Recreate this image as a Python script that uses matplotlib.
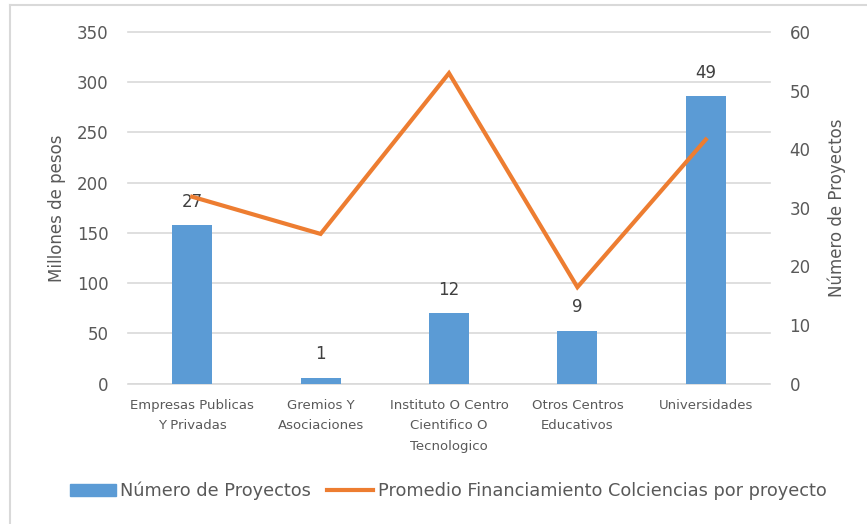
import matplotlib.pyplot as plt
from matplotlib.lines import Line2D

# data
categories = ['Empresas Publicas\nY Privadas', 'Gremios Y\nAsociaciones',
              'Instituto O Centro\nCientifico O\nTecnologico', 'Otros Centros\nEducativos',
              'Universidades']
num_proyectos = [27, 1, 12, 9, 49]
promedio_financiamiento = [186, 149, 309, 96, 243]

left_ticks = [0, 50, 100, 150, 200, 250, 300, 350]
right_ticks = [0, 10, 20, 30, 40, 50, 60]

bar_color = '#5B9BD5'
line_color = '#ED7D31'
text_color = '#595959'

plt.rcParams['font.family'] = ['DejaVu Sans']

W, H = 867, 524
fig = plt.figure(figsize=(W / 100, H / 100), dpi=100)
rect = [128 / W, (H - 383.6) / H, 642 / W, 351.6 / H]

# background axis: left scale + grid
ax1 = fig.add_axes(rect)
ax1.set_ylim(0, 350)
ax1.set_yticks(left_ticks)
ax1.yaxis.grid(True, color='#D9D9D9', linewidth=1.2)
for gl in ax1.get_ygridlines():
    gl.set_clip_on(False)
ax1.set_axisbelow(True)
ax1.tick_params(axis='y', length=0, pad=14, labelsize=12, labelcolor=text_color)
ax1.set_ylabel('Millones de pesos', fontsize=12, color=text_color, labelpad=8)
for s in ax1.spines.values():
    s.set_visible(False)

# bars on the right scale
x = list(range(len(categories)))
ax2 = ax1.twinx()
ax2.set_ylim(0, 60)
ax2.set_yticks(right_ticks)
ax2.tick_params(axis='y', length=0, pad=14, labelsize=12, labelcolor=text_color)
ax2.set_ylabel('Número de Proyectos', fontsize=12, color=text_color, labelpad=12)
for s in ax2.spines.values():
    s.set_visible(False)
bars = ax2.bar(x, num_proyectos, width=0.31, color=bar_color, zorder=2)
for xi, v in zip(x, num_proyectos):
    ax2.annotate(str(v), (xi, v), xytext=(0, 17), textcoords='offset points',
                 ha='center', va='center', fontsize=12, color='#404040')

ax1.set_xlim(-0.5, len(categories) - 0.5)
ax1.set_xticks(x)
ax1.set_xticklabels(categories, fontsize=9.5, color=text_color, linespacing=1.75)
ax1.tick_params(axis='x', length=0, pad=11)

# line on the left scale, drawn above bars
ax3 = fig.add_axes(rect, sharex=ax1, sharey=ax1)
ax3.patch.set_visible(False)
ax3.axis('off')
ax3.plot(x, promedio_financiamiento, color=line_color, linewidth=3, solid_joinstyle='miter')

# bottom baseline
ax1.axhline(0, color='#D9D9D9', linewidth=1.2)

handles = [plt.Rectangle((0, 0), 1, 1, color=bar_color),
           Line2D([0], [0], color=line_color, linewidth=3)]
labels = ['Número de Proyectos', 'Promedio Financiamiento Colciencias por proyecto']
fig.legend(handles, labels, loc='center', bbox_to_anchor=(448 / W, 1 - 491 / H), ncol=2,
           frameon=False, fontsize=12.8, labelcolor=text_color, handlelength=2.6,
           handletextpad=0.25, columnspacing=0.9)

# thin frame at top and left like the screenshot
fig.add_artist(Line2D([10 / W, 1], [1 - 5 / H, 1 - 5 / H], color='#D9D9D9', linewidth=1.5))
fig.add_artist(Line2D([10 / W, 10 / W], [0, 1 - 5 / H], color='#D9D9D9', linewidth=1.5))

fig.savefig('out.png', dpi=100)
